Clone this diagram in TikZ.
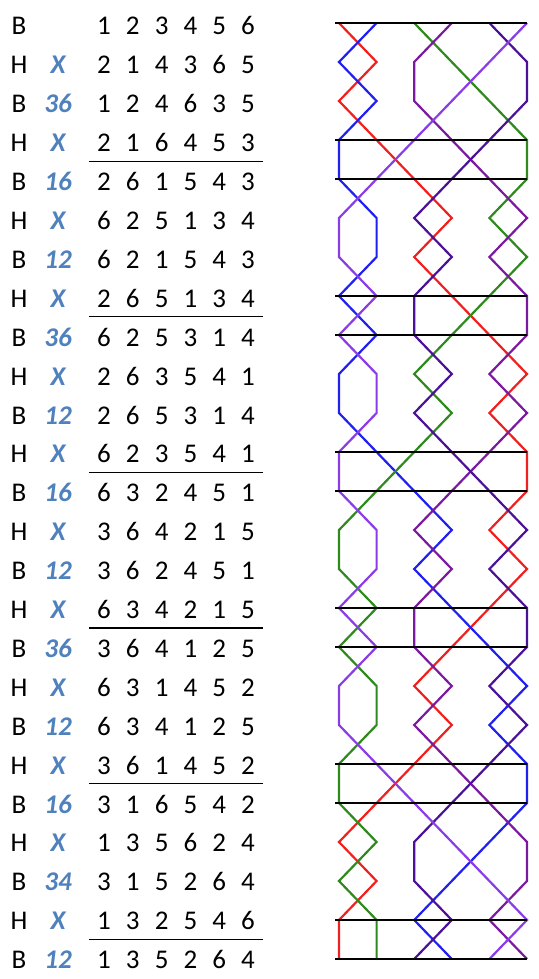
\documentclass[tikz,border=0pt]{standalone}
\usepackage{fontspec}
\setmainfont{Carlito}
\definecolor{bellone}{HTML}{F0201E}
\definecolor{belltwo}{HTML}{2020F0}
\definecolor{bellthree}{HTML}{2F8A1E}
\definecolor{bellfour}{HTML}{7B1A9E}
\definecolor{bellfive}{HTML}{4B1298}
\definecolor{bellsix}{HTML}{8A3CE6}
\definecolor{notation}{HTML}{4F81BD}

\begin{document}
\begin{tikzpicture}[x=1pt,y=-1pt,
    txt/.style={font=\fontsize{27}{30}\selectfont,inner sep=0pt,anchor=base},
    pn/.style={txt,text=notation,font=\fontsize{27}{30}\selectfont\bfseries\itshape},
    rule/.style={line width=1.1pt},
    leadline/.style={line width=2pt},
    bell/.style={line width=2.2pt}]
  \useasboundingbox (0,0) rectangle (538,979);
  % the rows, with their place notation
  \foreach \hb/\pns/\row [count=\r from 0] in
      {B//{1,2,3,4,5,6},  H/X/{2,1,4,3,6,5},  B/36/{1,2,4,6,3,5}, H/X/{2,1,6,4,5,3},
       B/16/{2,6,1,5,4,3}, H/X/{6,2,5,1,3,4}, B/12/{6,2,1,5,4,3}, H/X/{2,6,5,1,3,4},
       B/36/{6,2,5,3,1,4}, H/X/{2,6,3,5,4,1}, B/12/{2,6,5,3,1,4}, H/X/{6,2,3,5,4,1},
       B/16/{6,3,2,4,5,1}, H/X/{3,6,4,2,1,5}, B/12/{3,6,2,4,5,1}, H/X/{6,3,4,2,1,5},
       B/36/{3,6,4,1,2,5}, H/X/{6,3,1,4,5,2}, B/12/{6,3,4,1,2,5}, H/X/{3,6,1,4,5,2},
       B/16/{3,1,6,5,4,2}, H/X/{1,3,5,6,2,4}, B/34/{3,1,5,2,6,4}, H/X/{1,3,2,5,4,6},
       B/12/{1,3,5,2,6,4}} {
    \node[txt] (hb\r) at (19,{35+38.9*\r}) {\hb};
    \node[pn] (pn\r) at (58,{35+38.9*\r}) {\pns};
    \foreach \d [count=\c] in \row
      \node[txt] (c\r-\c) at ({75.2+28.8*\c},{35+38.9*\r}) {\d};
  }
  \foreach \r in {3,7,...,23}
    \draw[rule] (89,{44.5+38.9*\r}) -- (263,{44.5+38.9*\r});
  % the line of each bell
  \foreach \col/\first/\rest in
      {bellone/1/{2,1,2,3,4,3,4,5,6,5,6,6,5,6,5,4,3,4,3,2,1,2,1,1},
       belltwo/2/{1,2,1,1,2,2,1,2,1,1,2,3,4,3,4,5,6,5,6,6,5,4,3,4},
       bellthree/3/{4,5,6,6,5,6,5,4,3,4,3,2,1,1,2,1,2,2,1,1,2,1,2,2},
       bellfour/4/{3,3,4,5,6,5,6,6,5,6,5,4,3,4,3,3,4,3,4,5,6,6,5,6},
       bellfive/5/{6,6,5,4,3,4,3,3,4,3,4,5,6,5,6,6,5,6,5,4,3,3,4,3},
       bellsix/6/{5,4,3,2,1,1,2,1,2,2,1,1,2,2,1,2,1,1,2,3,4,5,6,5}}
    \draw[bell,\col] ({301.4+37.6*\first},23)
      foreach \p [count=\r] in \rest { -- ({301.4+37.6*\p},{23+39*\r}) };
  % lead ends
  \foreach \r in {0,3,4,7,8,11,12,15,16,19,20,23,24}
    \draw[leadline] (335,{23+39*\r}) -- (527,{23+39*\r});
\end{tikzpicture}
\end{document}
